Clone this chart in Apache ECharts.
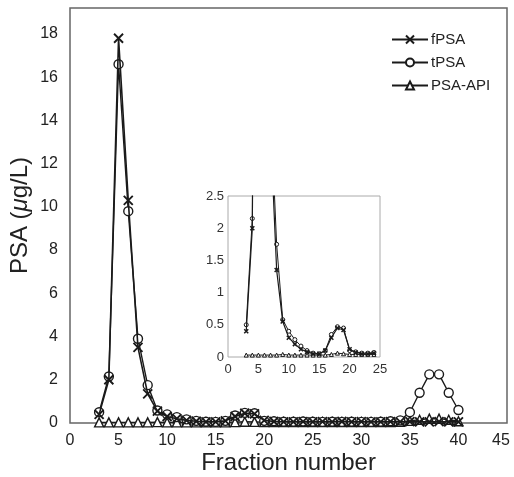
<!DOCTYPE html>
<html>
<head>
<meta charset="utf-8">
<script src="https://cdn.jsdelivr.net/npm/echarts@6/dist/echarts.min.js"></script>
<style>
  html, body { margin: 0; padding: 0; background: #fff; }
  #chart { width: 514px; height: 477px; }
</style>
</head>
<body>
<div id="chart"></div>
<script>
// fraction numbers 3..40
const fractions = [3,4,5,6,7,8,9,10,11,12,13,14,15,16,17,18,19,20,21,22,23,24,25,26,27,28,29,30,31,32,33,34,35,36,37,38,39,40]

const fPSA = [0.4,2.0,17.8,10.3,3.5,1.35,0.55,0.3,0.2,0.12,0.08,0.05,0.05,0.1,0.3,0.45,0.42,0.12,0.07,0.05,
  0.05,0.06,0.05,0.06,0.05,0.07,0.05,0.06,0.05,0.05,0.06,0.05,0.06,0.05,0.05,0.06,0.05,0.05]
const tPSA = [0.5,2.15,16.6,9.8,3.9,1.75,0.58,0.4,0.27,0.17,0.1,0.06,0.05,0.1,0.35,0.47,0.45,0.1,0.08,0.06,
  0.06,0.07,0.06,0.05,0.06,0.05,0.06,0.05,0.05,0.06,0.08,0.12,0.5,1.4,2.25,2.25,1.4,0.6]
const psaAPI = [0.03,0.03,0.03,0.03,0.03,0.03,0.04,0.03,0.03,0.03,0.03,0.03,0.03,0.03,0.04,0.06,0.05,0.04,0.04,0.04,
  0.04,0.04,0.04,0.04,0.04,0.04,0.04,0.04,0.04,0.04,0.04,0.06,0.1,0.15,0.2,0.2,0.15,0.08]

const seriesNames = ['fPSA', 'tPSA', 'PSA-API']
const yTicks = [0,2,4,6,8,10,12,14,16,18]
const insetYTicks = [0,0.5,1,1.5,2,2.5]
const insetLast = 24  // inset shows fractions up to 24

const cross = 'path://M0,0L10,10M10,0L0,10'
const ink = '#1a1a1a'
const font = 'Liberation Sans'

function pairs(vals, maxX) {
  const out = []
  fractions.forEach((f, i) => { if (f <= maxX) out.push([f, vals[i]]) })
  return out
}

function makeSeries(idx, vals, symbol, size, lw, grid) {
  return {
    name: grid === 0 ? seriesNames[idx] : undefined,
    type: 'line',
    xAxisIndex: grid, yAxisIndex: grid,
    data: pairs(vals, grid === 0 ? 99 : insetLast),
    symbol: symbol,
    symbolSize: size,
    showAllSymbol: true,
    lineStyle: { color: ink, width: lw },
    itemStyle: symbol === cross
      ? { color: ink, borderColor: ink, borderWidth: lw + 0.3 }
      : { color: '#fff', borderColor: ink, borderWidth: lw },
    emphasis: { disabled: true },
    z: 3 - idx
  }
}

let myChart = echarts.init(document.getElementById('chart'))

let option = {
  animation: false,
  backgroundColor: '#fff',
  textStyle: { fontFamily: font },
  legend: {
    orient: 'vertical',
    left: 386, top: 27,
    itemWidth: 36, itemHeight: 10, itemGap: 8,
    textStyle: { fontFamily: font, fontSize: 15, color: '#222', padding: [0, 0, 0, -2] },
    data: seriesNames
  },
  grid: [
    { left: 70, top: 8, right: 7, bottom: 54, show: true, borderColor: '#666', borderWidth: 1.5,
      outerBoundsMode: 'none', containLabel: false },
    { left: 228, top: 196, width: 152, height: 161, show: true, borderColor: '#aaa', borderWidth: 1,
      outerBoundsMode: 'none', containLabel: false }
  ],
  xAxis: [
    {
      type: 'value', gridIndex: 0, min: 0, max: 45, interval: 5,
      axisLine: { show: false }, axisTick: { show: false }, splitLine: { show: false },
      axisLabel: {
        fontSize: 16, color: '#222', margin: 10, fontFamily: font,
        formatter: v => v === 45 ? '{r|45}' : String(v),
        rich: { r: { fontSize: 16, color: '#222', fontFamily: font, padding: [0, 12, 0, 0] } }
      },
      name: 'Fraction number', nameLocation: 'middle', nameGap: 28, nameMoveOverlap: false,
      nameTextStyle: { fontSize: 24, color: '#222', fontFamily: font }
    },
    {
      type: 'value', gridIndex: 1, min: 0, max: 25, interval: 5,
      axisLine: { show: false }, axisTick: { show: false }, splitLine: { show: false },
      axisLabel: { fontSize: 13, color: '#333', margin: 6, fontFamily: font }
    }
  ],
  yAxis: [
    {
      type: 'value', gridIndex: 0, min: 0, max: 19.2, interval: 2,
      axisLine: { show: false }, axisTick: { show: false }, splitLine: { show: false },
      axisLabel: {
        fontSize: 16, color: '#222', margin: 12, fontFamily: font,
        showMaxLabel: false,
        formatter: v => yTicks.indexOf(v) >= 0 ? String(v) : ''
      },
      name: 'PSA ({i|μ}g/L)', nameLocation: 'middle', nameGap: 38, nameMoveOverlap: false,
      nameTextStyle: {
        fontSize: 24, color: '#222', fontFamily: font,
        rich: { i: { fontSize: 24, fontStyle: 'italic', color: '#222', fontFamily: font } }
      }
    },
    {
      type: 'value', gridIndex: 1, min: 0, max: 2.5, interval: 0.5,
      axisLine: { show: false }, axisTick: { show: false }, splitLine: { show: false },
      axisLabel: {
        fontSize: 13, color: '#333', margin: 4, fontFamily: font,
        formatter: v => insetYTicks.indexOf(v) >= 0 ? String(v) : ''
      }
    }
  ],
  series: [
    makeSeries(0, fPSA, cross, 9, 1.6, 0),
    makeSeries(1, tPSA, 'circle', 9, 1.4, 0),
    makeSeries(2, psaAPI, 'triangle', 9, 1.4, 0),
    makeSeries(0, fPSA, cross, 4, 1.2, 1),
    makeSeries(1, tPSA, 'circle', 4, 1.0, 1),
    makeSeries(2, psaAPI, 'triangle', 4, 1.0, 1)
  ]
}

myChart.setOption(option)
</script>
</body>
</html>
